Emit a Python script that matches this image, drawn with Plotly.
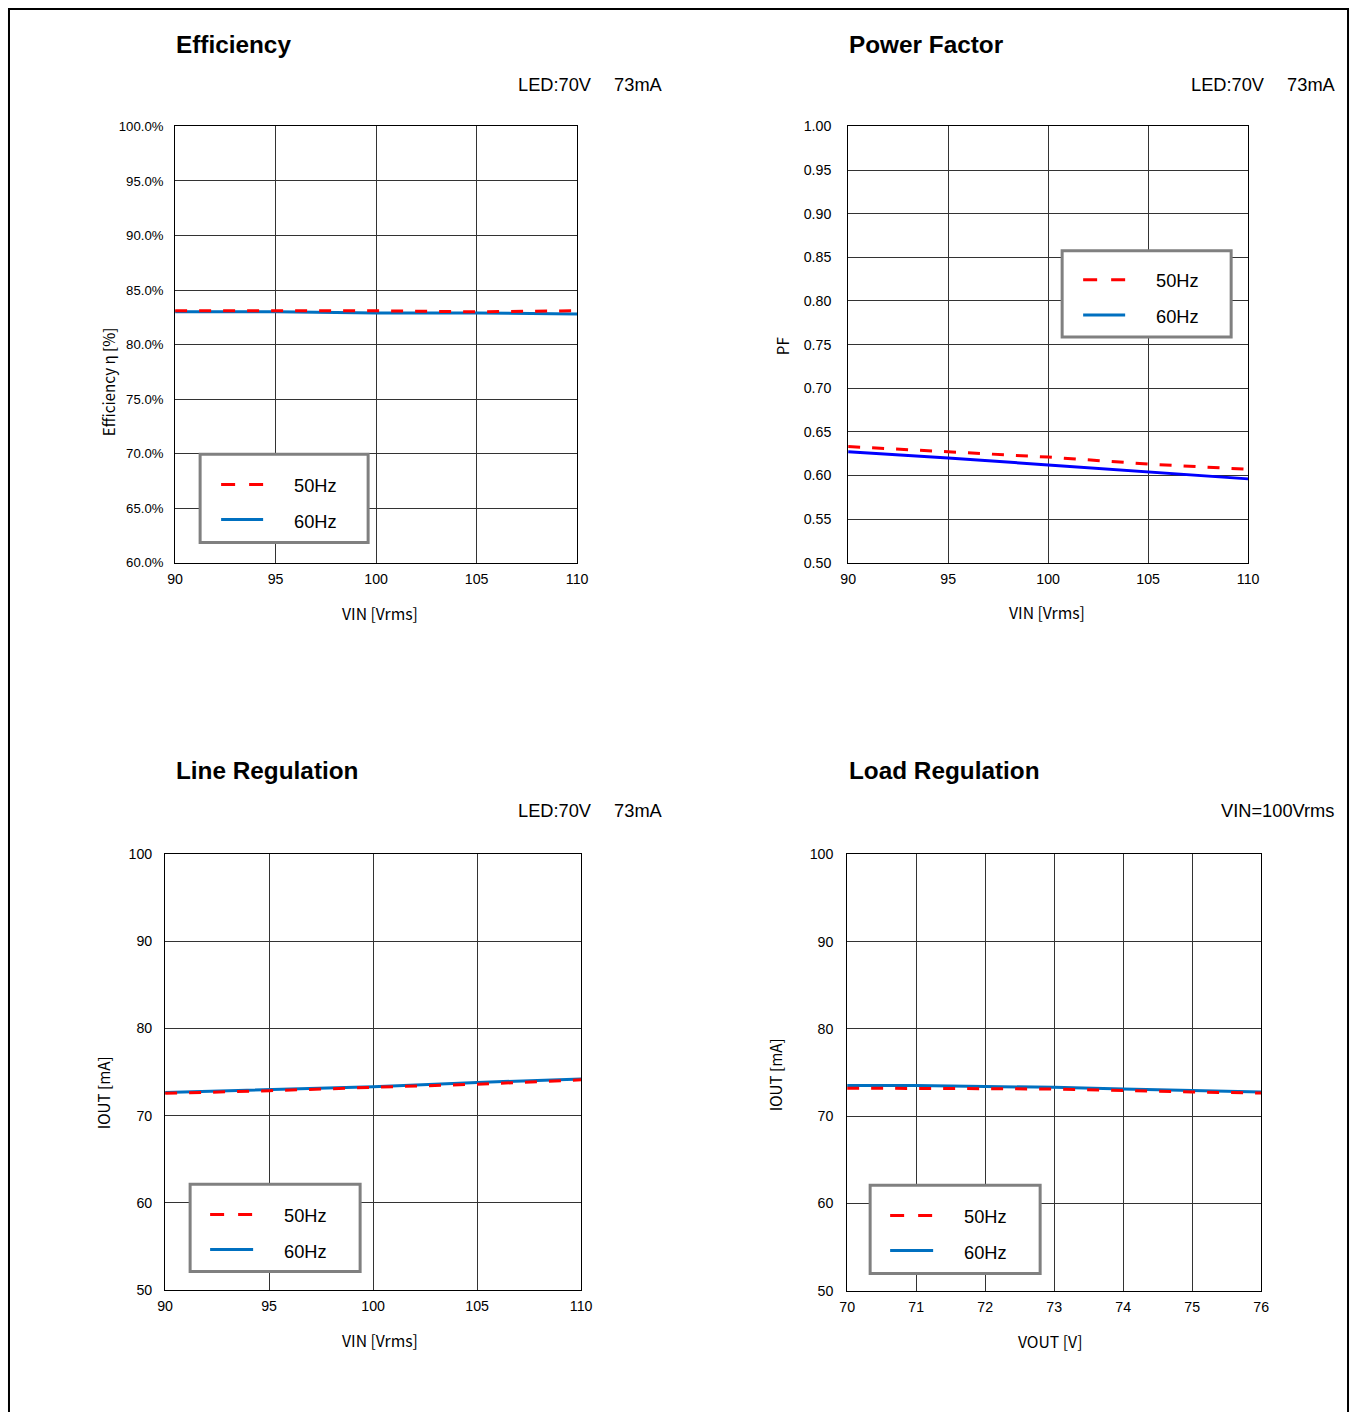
import plotly.graph_objects as go

# Page is shown with an 8px body margin and a ~0.986 overall scale; map target pixels accordingly.
S = 0.986
OFF = 8
W, H = 1360, 1416

# ---------------- data ----------------
eff_vin = [90, 95, 100, 105, 110]
eff_50 = [83.1, 83.1, 83.1, 83.0, 83.1]
eff_60 = [83.0, 83.0, 82.9, 82.9, 82.8]

pf_vin = [90, 95, 100, 105, 110]
pf_50 = [0.633, 0.627, 0.621, 0.613, 0.607]
pf_60 = [0.627, 0.620, 0.612, 0.604, 0.596]

lr_vin = [90, 95, 100, 105, 110]
lr_50 = [72.55, 72.85, 73.24, 73.6, 74.1]
lr_60 = [72.66, 73.0, 73.3, 73.8, 74.2]

ld_vout = [70, 71, 72, 73, 74, 75, 76]
ld_50 = [73.2, 73.2, 73.15, 73.1, 72.9, 72.76, 72.65]
ld_60 = [73.5, 73.5, 73.4, 73.3, 73.1, 72.9, 72.76]

series_names = ["50Hz", "60Hz"]

RED = "#FF0000"
BLUE = "#0070C0"
PFBLUE = "#0000FF"

def fx(p):
    return p / S - OFF

def px_x(p):
    return min(max(fx(p) / W, 0), 1)

def px_y(p):
    return min(max(1 - fx(p) / H, 0), 1)

def fs(size):
    return round(size / S, 2)

fig = go.Figure()

# panels: (xaxis id, yaxis id, x pixel range, y pixel range) in target pixels
panels = [
    ("x", "y", (175, 577), (126, 561)),
    ("x2", "y2", (848, 1248), (126, 561)),
    ("x3", "y3", (165, 581), (852, 1286)),
    ("x4", "y4", (847, 1261), (852, 1287)),
]

dash = "12px,12px"
data = [
    (eff_vin, eff_50, eff_60, BLUE),
    (pf_vin, pf_50, pf_60, PFBLUE),
    (lr_vin, lr_50, lr_60, BLUE),
    (ld_vout, ld_50, ld_60, BLUE),
]
for (xa, ya, _, _), (xs, s50, s60, c60) in zip(panels, data):
    fig.add_trace(go.Scatter(x=xs, y=s60, mode="lines", name=series_names[1],
                             line=dict(color=c60, width=3), xaxis=xa, yaxis=ya,
                             showlegend=False))
    fig.add_trace(go.Scatter(x=xs, y=s50, mode="lines", name=series_names[0],
                             line=dict(color=RED, width=3, dash=dash), xaxis=xa, yaxis=ya,
                             showlegend=False))

tick_font = dict(family="Liberation Sans, Arial", size=fs(14), color="black")
axis_common = dict(showgrid=True, gridcolor="#333333", gridwidth=1, zeroline=False,
                   showline=True, linecolor="black", linewidth=1, mirror=True,
                   ticks="", tickfont=tick_font, fixedrange=True)

ranges = [
    dict(x=[90, 110], xd=5, y=[60, 100], yd=5, yfmt=".1f", ysuf="%", ystand=8),
    dict(x=[90, 110], xd=5, y=[0.5, 1.0], yd=0.05, yfmt=".2f", ysuf="", ystand=13),
    dict(x=[90, 110], xd=5, y=[50, 100], yd=10, yfmt="d", ysuf="", ystand=9),
    dict(x=[70, 76], xd=1, y=[50, 100], yd=10, yfmt="d", ysuf="", ystand=10),
]

layout_axes = {}
for i, ((xa, ya, xr, yr), r) in enumerate(zip(panels, ranges)):
    n = "" if i == 0 else str(i + 1)
    xaxis = dict(axis_common, domain=[px_x(xr[0]), px_x(xr[1])], range=r["x"],
                 dtick=r["xd"], tick0=r["x"][0], anchor=ya, ticklabelstandoff=3)
    yaxis = dict(axis_common, domain=[px_y(yr[1]), px_y(yr[0])], range=r["y"],
                 dtick=r["yd"], tick0=r["y"][0], anchor=xa, tickformat=r["yfmt"],
                 ticksuffix=r["ysuf"], ticklabelstandoff=r["ystand"])
    if i == 0:
        yaxis["tickfont"] = dict(tick_font, size=fs(13))
    layout_axes["xaxis" + n] = xaxis
    layout_axes["yaxis" + n] = yaxis

annotations = []
shapes = []

def text(x, y, s, size=18, bold=False, xanchor="left", angle=0, family="Liberation Sans, Arial"):
    annotations.append(dict(x=px_x(x), y=px_y(y), xref="paper", yref="paper",
                            text=("<b>%s</b>" % s) if bold else s, showarrow=False,
                            xanchor=xanchor, yanchor="middle", textangle=angle,
                            font=dict(family=family, size=fs(size), color="black")))

# titles
text(174, 44, "Efficiency", size=24, bold=True)
text(665, 84, "LED:70V\u3000 73mA", size=18, xanchor="right")
text(847, 44, "Power Factor", size=24, bold=True)
text(1338, 84, "LED:70V\u3000 73mA", size=18, xanchor="right")
text(174, 768, "Line Regulation", size=24, bold=True)
text(665, 808, "LED:70V\u3000 73mA", size=18, xanchor="right")
text(847, 768, "Load Regulation", size=24, bold=True)
text(1336, 808, "VIN=100Vrms", size=18, xanchor="right")

# axis titles
cjk = "Noto Sans CJK JP"
text(380, 612, "VIN [Vrms]", size=15.5, xanchor="center", family=cjk)
text(1047, 611, "VIN [Vrms]", size=15.5, xanchor="center", family=cjk)
text(380, 1337, "VIN [Vrms]", size=15.5, xanchor="center", family=cjk)
text(1050, 1338, "VOUT [V]", size=15.5, xanchor="center", family=cjk)
text(108, 381, "Efficiency η [%]", size=15, xanchor="center", angle=-90, family=cjk)
text(782, 345, "PF", size=15, xanchor="center", angle=-90, family=cjk)
text(103, 1090, "IOUT [mA]", size=15, xanchor="center", angle=-90, family=cjk)
text(775, 1072, "IOUT [mA]", size=15, xanchor="center", angle=-90, family=cjk)

# manual legends
legends = [
    ((200, 453, 368, 541), (221, 263), (483, 518), 292, BLUE),
    ((1062, 250, 1231, 336), (1083, 1125), (279, 314), 1154, BLUE),
    ((190, 1181, 360, 1268), (210, 253), (1211, 1246), 282, BLUE),
    ((870, 1182, 1040, 1270), (890, 933), (1212, 1247), 962, BLUE),
]
for (x0, y0, x1, y1), (lx0, lx1), (ly1, ly2), tx, c in legends:
    shapes.append(dict(type="rect", xref="paper", yref="paper",
                       x0=px_x(x0), x1=px_x(x1), y0=px_y(y1), y1=px_y(y0),
                       line=dict(color="#808080", width=3), fillcolor="white", layer="above"))
    shapes.append(dict(type="line", xref="paper", yref="paper",
                       x0=px_x(lx0), x1=px_x(lx1), y0=px_y(ly1), y1=px_y(ly1),
                       line=dict(color=RED, width=3, dash="14px,14px"), layer="above"))
    shapes.append(dict(type="line", xref="paper", yref="paper",
                       x0=px_x(lx0), x1=px_x(lx1), y0=px_y(ly2), y1=px_y(ly2),
                       line=dict(color=c, width=3), layer="above"))
    text(tx, ly1 + 1, series_names[0], size=18)
    text(tx, ly2 + 2, series_names[1], size=18)

# outer frame (clamped to the figure area)
shapes.append(dict(type="rect", xref="paper", yref="paper",
                   x0=1.0 / W, x1=1 - 1.0 / W, y0=-0.02, y1=1 - 1.0 / H,
                   line=dict(color="black", width=2), layer="below"))

fig.update_layout(width=W, height=H, margin=dict(l=0, r=0, t=0, b=0),
                  paper_bgcolor="white", plot_bgcolor="white",
                  showlegend=False, annotations=annotations, shapes=shapes,
                  **layout_axes)

fig.write_html("out.html", config=dict(displayModeBar=False))
